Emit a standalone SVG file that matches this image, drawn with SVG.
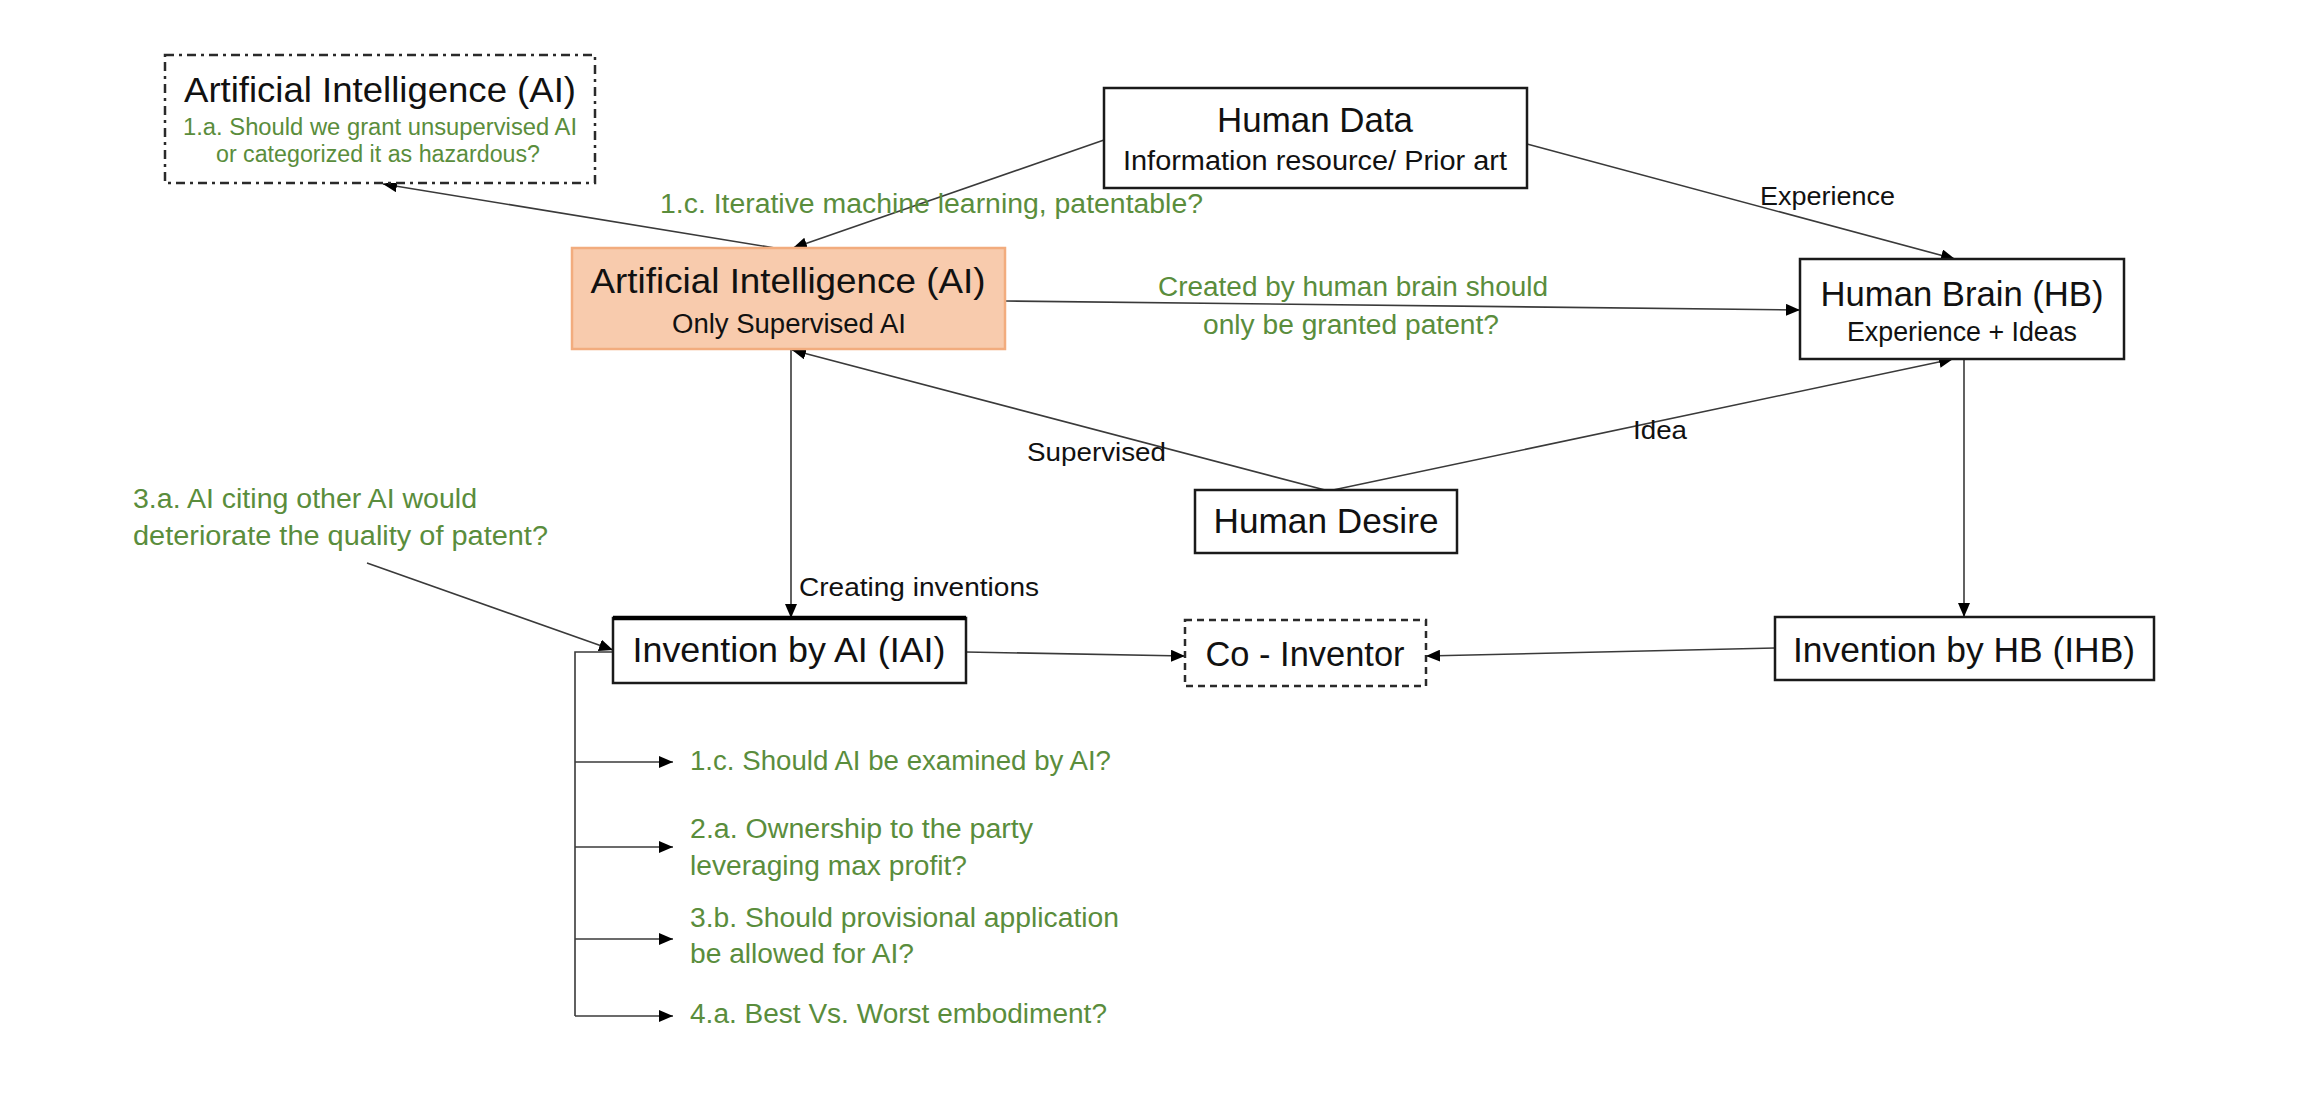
<svg xmlns="http://www.w3.org/2000/svg" width="2300" height="1108" viewBox="0 0 2300 1108">
  <style>
    text { font-family: "Liberation Sans", Arial, sans-serif; }
    .box { fill: #ffffff; stroke: #1a1a1a; stroke-width: 2.5; }
    .title { font-size: 35px; fill: #111111; text-anchor: middle; }
    .sub { font-size: 27px; fill: #111111; text-anchor: middle; }
    .lbl { font-size: 26px; fill: #111111; }
    .green { font-size: 27px; fill: #5A8D3C; }
    .greenS { font-size: 23.5px; fill: #5A8D3C; text-anchor: middle; }
    .conn { fill: none; stroke: #3a3a3a; stroke-width: 1.6; }
  </style>
  <defs>
    <marker id="arr" markerUnits="userSpaceOnUse" markerWidth="15" markerHeight="12" refX="14" refY="6" orient="auto">
      <path d="M0,0 L14,6 L0,12 z" fill="#000000"/>
    </marker>
  </defs>
  <rect width="2300" height="1108" fill="#ffffff"/>

  <g id="connectors">
    <line class="conn" x1="775" y1="248" x2="383" y2="184" marker-end="url(#arr)"/>
    <line class="conn" x1="1104" y1="140" x2="793" y2="248" marker-end="url(#arr)"/>
    <line class="conn" x1="1527" y1="144" x2="1955" y2="259" marker-end="url(#arr)"/>
    <line class="conn" x1="1005" y1="301" x2="1800" y2="310" marker-end="url(#arr)"/>
    <line class="conn" x1="1325" y1="490" x2="792" y2="350" marker-end="url(#arr)"/>
    <line class="conn" x1="1333" y1="490" x2="1953" y2="359" marker-end="url(#arr)"/>
    <line class="conn" x1="791" y1="349" x2="791" y2="618" marker-end="url(#arr)"/>
    <line class="conn" x1="1964" y1="359" x2="1964" y2="617" marker-end="url(#arr)"/>
    <line class="conn" x1="966" y1="652" x2="1185" y2="656" marker-end="url(#arr)"/>
    <line class="conn" x1="1775" y1="648" x2="1426" y2="656" marker-end="url(#arr)"/>
    <line class="conn" x1="367" y1="563" x2="613" y2="650" marker-end="url(#arr)"/>
    <polyline class="conn" points="613,652 575,652 575,1016"/>
    <line class="conn" x1="575" y1="762" x2="673" y2="762" marker-end="url(#arr)"/>
    <line class="conn" x1="575" y1="847" x2="673" y2="847" marker-end="url(#arr)"/>
    <line class="conn" x1="575" y1="939" x2="673" y2="939" marker-end="url(#arr)"/>
    <line class="conn" x1="575" y1="1016" x2="673" y2="1016" marker-end="url(#arr)"/>
  </g>

  <g id="labels">
    <text class="green" x="660" y="213" textLength="543" lengthAdjust="spacingAndGlyphs">1.c. Iterative machine learning, patentable?</text>
    <text class="green" x="1353" y="296" text-anchor="middle" textLength="390" lengthAdjust="spacingAndGlyphs">Created by human brain should</text>
    <text class="green" x="1351" y="334" text-anchor="middle" textLength="296" lengthAdjust="spacingAndGlyphs">only be granted patent?</text>
    <text class="lbl" x="1760" y="205" textLength="135" lengthAdjust="spacingAndGlyphs">Experience</text>
    <text class="lbl" x="1027" y="461" textLength="139" lengthAdjust="spacingAndGlyphs">Supervised</text>
    <text class="lbl" x="1633" y="439" textLength="54" lengthAdjust="spacingAndGlyphs">Idea</text>
    <text class="lbl" x="799" y="596" textLength="240" lengthAdjust="spacingAndGlyphs">Creating inventions</text>
    <text class="green" x="133" y="508" textLength="344" lengthAdjust="spacingAndGlyphs">3.a. AI citing other AI would</text>
    <text class="green" x="133" y="545" textLength="415" lengthAdjust="spacingAndGlyphs">deteriorate the quality of patent?</text>
    <text class="green" x="690" y="770" textLength="421" lengthAdjust="spacingAndGlyphs">1.c. Should AI be examined by AI?</text>
    <text class="green" x="690" y="838" textLength="343" lengthAdjust="spacingAndGlyphs">2.a. Ownership to the party</text>
    <text class="green" x="690" y="875" textLength="277" lengthAdjust="spacingAndGlyphs">leveraging max profit?</text>
    <text class="green" x="690" y="927" textLength="429" lengthAdjust="spacingAndGlyphs">3.b. Should provisional application</text>
    <text class="green" x="690" y="963" textLength="224" lengthAdjust="spacingAndGlyphs">be allowed for AI?</text>
    <text class="green" x="690" y="1023" textLength="417" lengthAdjust="spacingAndGlyphs">4.a. Best Vs. Worst embodiment?</text>
  </g>

  <g id="node-ai-unsupervised">
    <rect x="165" y="55" width="430" height="128" fill="#ffffff" stroke="#2a2a2a" stroke-width="2.5" stroke-dasharray="9 5 3 5"/>
    <text class="title" x="380" y="102" textLength="392" lengthAdjust="spacingAndGlyphs">Artificial Intelligence (AI)</text>
    <text class="greenS" x="380" y="135" textLength="394" lengthAdjust="spacingAndGlyphs">1.a. Should we grant unsupervised AI</text>
    <text class="greenS" x="378" y="162" textLength="324" lengthAdjust="spacingAndGlyphs">or categorized it as hazardous?</text>
  </g>

  <g id="node-human-data">
    <rect class="box" x="1104" y="88" width="423" height="100"/>
    <text class="title" x="1315" y="132" textLength="196" lengthAdjust="spacingAndGlyphs">Human Data</text>
    <text class="sub" x="1315" y="170" textLength="384" lengthAdjust="spacingAndGlyphs">Information resource/ Prior art</text>
  </g>

  <g id="node-ai-supervised">
    <rect x="572" y="248" width="433" height="101" fill="#F8CBAD" stroke="#F2AC7E" stroke-width="2.5"/>
    <text class="title" x="788" y="293" textLength="395" lengthAdjust="spacingAndGlyphs">Artificial Intelligence (AI)</text>
    <text class="sub" x="789" y="333" textLength="234" lengthAdjust="spacingAndGlyphs">Only Supervised AI</text>
  </g>

  <g id="node-human-brain">
    <rect class="box" x="1800" y="259" width="324" height="100"/>
    <text class="title" x="1962" y="306" textLength="283" lengthAdjust="spacingAndGlyphs">Human Brain (HB)</text>
    <text class="sub" x="1962" y="341" textLength="230" lengthAdjust="spacingAndGlyphs">Experience + Ideas</text>
  </g>

  <g id="node-human-desire">
    <rect class="box" x="1195" y="490" width="262" height="63"/>
    <text class="title" x="1326" y="533" textLength="225" lengthAdjust="spacingAndGlyphs">Human Desire</text>
  </g>

  <g id="node-invention-ai">
    <rect class="box" x="613" y="618" width="353" height="65"/>
    <line x1="613" y1="618" x2="966" y2="618" stroke="#000000" stroke-width="4.5"/>
    <text class="title" x="789" y="662" textLength="313" lengthAdjust="spacingAndGlyphs">Invention by AI (IAI)</text>
  </g>

  <g id="node-co-inventor">
    <rect x="1185" y="620" width="241" height="66" fill="#ffffff" stroke="#2a2a2a" stroke-width="2.5" stroke-dasharray="7 5"/>
    <text class="title" x="1305" y="666" textLength="199" lengthAdjust="spacingAndGlyphs">Co - Inventor</text>
  </g>

  <g id="node-invention-hb">
    <rect class="box" x="1775" y="617" width="379" height="63"/>
    <text class="title" x="1964" y="662" textLength="342" lengthAdjust="spacingAndGlyphs">Invention by HB (IHB)</text>
  </g>
</svg>
